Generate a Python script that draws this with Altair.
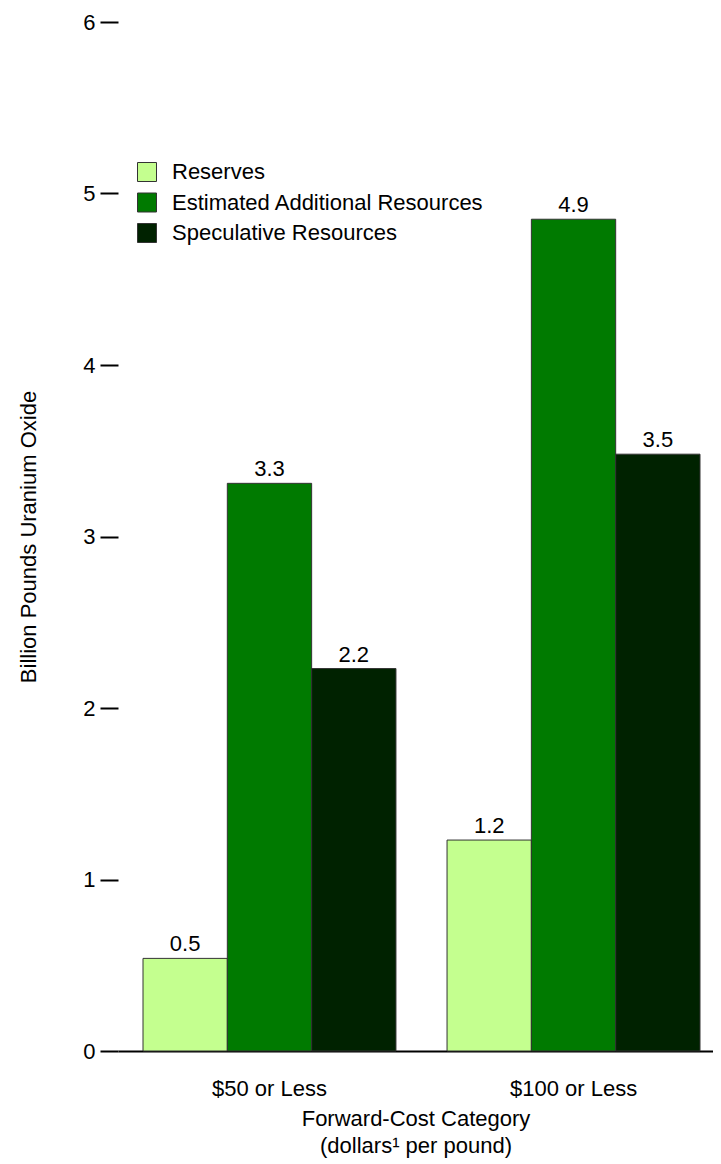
import altair as alt
import pandas as pd

categories = ["$50 or Less", "$100 or Less"]
series = ["Reserves", "Estimated Additional Resources", "Speculative Resources"]
reserves = [0.54, 1.23]
estimated = [3.31, 4.85]
speculative = [2.23, 3.48]
labels_reserves = ["0.5", "1.2"]
labels_estimated = ["3.3", "4.9"]
labels_speculative = ["2.2", "3.5"]
colors = ["#C4FF8F", "#007A00", "#002200"]
y_ticks = [0, 1, 2, 3, 4, 5, 6]

rows = []
for i, c in enumerate(categories):
    for s, vals, labs in zip(series, [reserves, estimated, speculative],
                             [labels_reserves, labels_estimated, labels_speculative]):
        rows.append({"category": c, "series": s, "value": vals[i], "label": labs[i]})
df = pd.DataFrame(rows)

FONT = "Liberation Sans"
FS = 22

x_enc = alt.X("category:N", sort=categories,
              scale=alt.Scale(paddingInner=0.168, paddingOuter=0.0625, align=0.658),
              axis=alt.Axis(title=["Forward-Cost Category", "(dollars\u00b9 per pound)"],
                            labelAngle=0, ticks=False, labelPadding=27,
                            labelFontSize=FS, titleFontSize=FS, titleFontWeight="normal",
                            titlePadding=9, titleLineHeight=27,
                            domain=True, domainColor="black", domainWidth=2,
                            labelColor="black", titleColor="black"))
xoff = alt.XOffset("series:N", sort=series, scale=alt.Scale(paddingInner=0, paddingOuter=0))
y_enc = alt.Y("value:Q", scale=alt.Scale(domain=[0, 6], nice=False),
              axis=alt.Axis(title="Billion Pounds Uranium Oxide", values=y_ticks, format="d",
                            grid=False, domain=False, ticks=True, tickSize=18,
                            tickWidth=2, tickColor="black", labelPadding=5,
                            labelFontSize=FS, titleFontSize=FS, titleFontWeight="normal",
                            titlePadding=42, labelColor="black", titleColor="black"))

bars = alt.Chart(df).mark_bar(stroke="#333333", strokeWidth=1).encode(
    x=x_enc, xOffset=xoff, y=y_enc,
    color=alt.Color("series:N", sort=series,
                    scale=alt.Scale(domain=series, range=colors),
                    legend=alt.Legend(title=None, orient="none", legendX=18, legendY=139,
                                      symbolType="square", symbolSize=361,
                                      symbolStrokeColor="#333333", symbolStrokeWidth=1,
                                      labelFontSize=FS, labelColor="black", labelLimit=500,
                                      rowPadding=6.5, labelOffset=14)),
)

text = alt.Chart(df).mark_text(dy=-14, fontSize=FS, color="black", font=FONT).encode(
    x=alt.X("category:N", sort=categories), xOffset=xoff, y="value:Q", text="label:N"
)

chart = (bars + text).properties(
    width=595, height=1029,
    autosize=alt.AutoSizeParams(type="none"),
    padding={"left": 110, "top": 14, "right": 0, "bottom": 107},
).configure(font=FONT).configure_view(stroke=None)

chart.save("out.html", embed_options={"renderer": "svg", "actions": False})
